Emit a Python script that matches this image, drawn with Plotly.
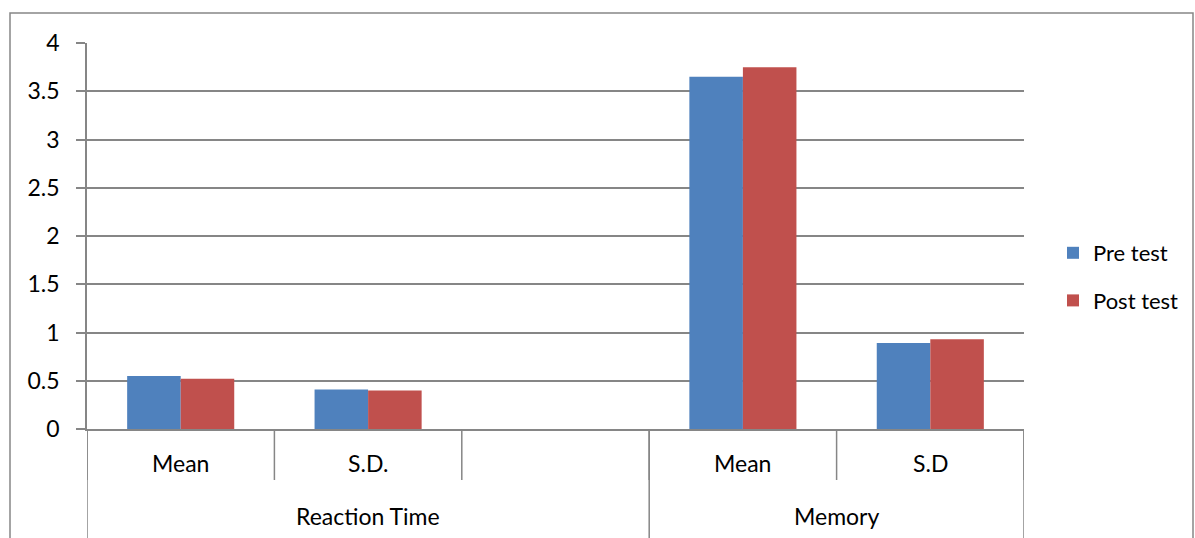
import plotly.graph_objects as go

# Pre/post test statistics by measure
groups = ["Reaction Time", "Reaction Time", "Reaction Time", "Memory", "Memory"]
stats = ["Mean", "S.D.", "", "Mean", "S.D"]
pre_test = [0.55, 0.41, None, 3.65, 0.89]
post_test = [0.52, 0.40, None, 3.75, 0.93]
y_ticks = [0, 0.5, 1, 1.5, 2, 2.5, 3, 3.5, 4]

BLUE = "#4F81BD"
RED = "#C0504D"
GRID = "#868686"
FONT = "Lato"
FS = 23

W, H = 1195, 538
L, R, T, B = 87, 171, 43, 109
plot_w = W - L - R
plot_h = H - T - B

xs = list(range(len(stats)))

fig = go.Figure()
fig.add_trace(go.Bar(x=xs, y=pre_test, name="Pre test", marker=dict(color=BLUE, line=dict(width=0)),
                     legendgroup="a"))
fig.add_trace(go.Bar(x=xs, y=post_test, name="Post test", marker=dict(color=RED, line=dict(width=0)),
                     legendgroup="b"))

def py(px):
    """pixel offset below the x-axis -> paper y"""
    return -px / plot_h

def pxx(px):
    """absolute pixel x -> paper x"""
    return (px - L) / plot_w

def pyy(px):
    """absolute pixel y -> paper y"""
    return (H - B - px) / plot_h

shapes = []
# category boundary ticks below the axis
for i in range(len(stats) + 1):
    shapes.append(dict(type="line", xref="x", yref="paper", x0=i - 0.5, x1=i - 0.5,
                       y0=0, y1=py(51), line=dict(color=GRID, width=1.5)))
# group dividers reaching the bottom
bounds = [0]
for i in range(1, len(groups)):
    if groups[i] != groups[i - 1]:
        bounds.append(i)
bounds.append(len(groups))
for b in bounds:
    shapes.append(dict(type="line", xref="x", yref="paper", x0=b - 0.5, x1=b - 0.5,
                       y0=0, y1=py(B + 5), line=dict(color=GRID, width=1.5)))
# outer chart border
shapes.append(dict(type="rect", xref="paper", yref="paper", x0=pxx(10), x1=pxx(1193),
                   y0=pyy(545), y1=pyy(13), line=dict(color=GRID, width=1.5),
                   fillcolor="rgba(0,0,0,0)", layer="below"))

annotations = []
for i, s in enumerate(stats):
    if s:
        annotations.append(dict(x=i, y=0, xref="x", yref="paper", text=s, showarrow=False,
                                yanchor="middle", yshift=-34,
                                font=dict(family=FONT, size=FS, color="black")))
for a, b in zip(bounds[:-1], bounds[1:]):
    annotations.append(dict(x=(a + b - 1) / 2, y=0, xref="x", yref="paper", text=groups[a],
                            showarrow=False, yanchor="middle", yshift=-87,
                            font=dict(family=FONT, size=FS, color="black")))

fig.update_layout(
    width=W, height=H,
    margin=dict(l=L, r=R, t=T, b=B, pad=0, autoexpand=False),
    paper_bgcolor="white", plot_bgcolor="white",
    barmode="group", bargap=0.4286, bargroupgap=0,
    font=dict(family=FONT, size=FS, color="black"),
    shapes=shapes, annotations=annotations,
    legend=dict(x=pxx(1053), y=pyy(232), xanchor="left", yanchor="top",
                font=dict(family=FONT, size=22, color="black"),
                tracegroupgap=16, itemwidth=30, bgcolor="rgba(0,0,0,0)"),
    xaxis=dict(range=[-0.5, len(stats) - 0.5], showticklabels=False, showgrid=False,
               zeroline=False, showline=True, linecolor=GRID, linewidth=1.5, ticks=""),
    yaxis=dict(range=[0, 4], tickvals=y_ticks, ticktext=[f"{v:g}" for v in y_ticks],
               showgrid=True, gridcolor=GRID, gridwidth=1.5, zeroline=False,
               showline=True, linecolor=GRID, linewidth=1.5,
               ticks="outside", ticklen=9, tickcolor=GRID, tickwidth=1.5,
               ticklabelstandoff=12),
)

fig.write_html("out.html")
